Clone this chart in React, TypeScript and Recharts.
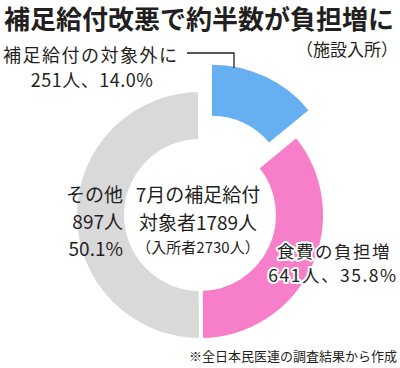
import { Pie, PieChart, Cell } from "recharts";

// 施設入所者の補足給付 内訳
const sliceNames = ["補足給付の対象外に", "食費の負担増", "その他"];
const sliceCounts = [251, 641, 897];
const sliceShares = ["14.0", "35.8", "50.1"];
const sliceColors = ["#66b0f2", "#f77ec9", "#d9d9d9"];

const title = "補足給付改悪で約半数が負担増に";
const subtitle = "（施設入所）";
const centerLines = ["7月の補足給付", "対象者1789人", "（入所者2730人）"];
const source = "※全日本民医連の調査結果から作成";

const data = sliceNames.map((name, i) => ({
  name,
  count: sliceCounts[i],
  share: sliceShares[i],
}));

const W = 400;
const H = 368;
const CX = 200;
const CY = 215;
const INNER = 74;
const OUTER = 125;
// 対象外の切り出し量
const POP = 28;

const font = "'Noto Sans CJK JP', 'Noto Sans', sans-serif";
const ink = "#231f20";

export default function App() {
  const total = sliceCounts.reduce((a, b) => a + b, 0);
  const popMid = (90 - (sliceCounts[0] / total) * 180) * (Math.PI / 180);
  const popX = CX + POP * Math.cos(popMid);
  const popY = CY - POP * Math.sin(popMid);

  return (
    <div
      style={{
        position: "absolute",
        left: 0,
        top: 0,
        width: W,
        height: H,
        background: "#fff",
      }}
    >
      <PieChart width={W} height={H} margin={{ top: 0, right: 0, bottom: 0, left: 0 }}>
        <Pie
          data={data}
          dataKey="count"
          nameKey="name"
          cx={CX}
          cy={CY}
          innerRadius={INNER}
          outerRadius={OUTER}
          startAngle={90}
          endAngle={-270}
          stroke="#fff"
          strokeWidth={4}
          isAnimationActive={false}
        >
          {data.map((d, i) => (
            <Cell
              key={d.name}
              fill={i === 0 ? "transparent" : sliceColors[i]}
              stroke={i === 0 ? "none" : "#fff"}
            />
          ))}
        </Pie>
        <Pie
          data={data}
          dataKey="count"
          nameKey="name"
          cx={popX}
          cy={popY}
          innerRadius={INNER}
          outerRadius={OUTER}
          startAngle={90}
          endAngle={-270}
          stroke="none"
          isAnimationActive={false}
        >
          {data.map((d, i) => (
            <Cell key={d.name} fill={i === 0 ? sliceColors[0] : "transparent"} />
          ))}
        </Pie>
      </PieChart>

      <svg
        width={W}
        height={H}
        style={{ position: "absolute", left: 0, top: 0, pointerEvents: "none" }}
        fontFamily={font}
        fill={ink}
      >
        <text x={4} y={17} fontSize={26} fontWeight={700} dominantBaseline="central">
          {title}
        </text>
        <text x={398} y={48} fontSize={17} textAnchor="end" dominantBaseline="central">
          {subtitle}
        </text>

        <text x={3} y={54} fontSize={18} letterSpacing={1.5} dominantBaseline="central">
          {sliceNames[0]}
        </text>
        <text x={92} y={79} fontSize={18} letterSpacing={0.5} textAnchor="middle" dominantBaseline="central">
          {`${sliceCounts[0]}人、${sliceShares[0]}%`}
        </text>
        <polyline
          points="187,53 234,53 234,68"
          fill="none"
          stroke={ink}
          strokeWidth={1.3}
        />

        {centerLines.map((t, i) => (
          <text
            key={t}
            x={198}
            y={[193, 221, 246][i]}
            fontSize={i === 2 ? 15 : 19}
            textAnchor="middle"
            dominantBaseline="central"
          >
            {t}
          </text>
        ))}

        {[sliceNames[2], `${sliceCounts[2]}人`, `${sliceShares[2]}%`].map((t, i) => (
          <text
            key={t}
            x={123}
            y={193 + i * 27}
            fontSize={19}
            textAnchor="end"
            dominantBaseline="central"
          >
            {t}
          </text>
        ))}

        {[sliceNames[1], `${sliceCounts[1]}人、${sliceShares[1]}%`].map((t, i) => (
          <text
            key={t}
            x={i === 0 ? 334 : 333}
            y={250 + i * 24}
            fontSize={17.5}
            letterSpacing={1.5}
            textAnchor="middle"
            dominantBaseline="central"
            stroke="#fff"
            strokeWidth={4}
            strokeLinejoin="round"
            style={{ paintOrder: "stroke" }}
          >
            {t}
          </text>
        ))}

        <text x={397} y={355} fontSize={13} textAnchor="end" dominantBaseline="central">
          {source}
        </text>
      </svg>
    </div>
  );
}
